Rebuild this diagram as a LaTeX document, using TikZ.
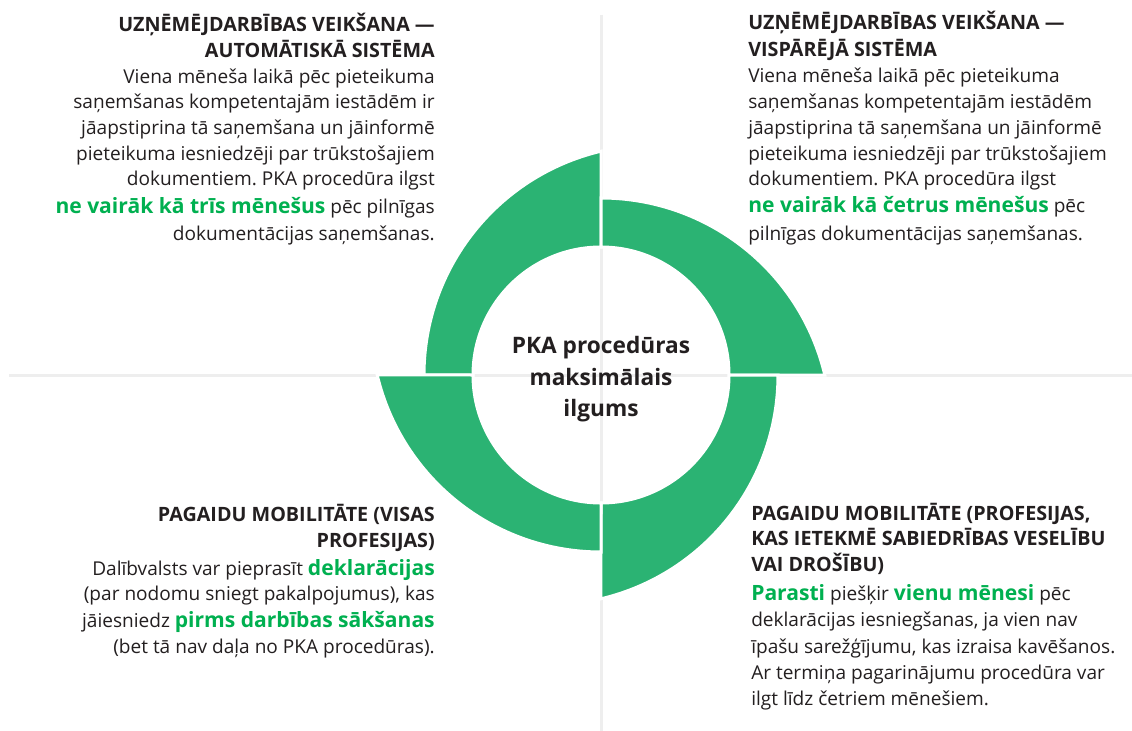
\documentclass[tikz,border=0pt]{standalone}
\usepackage{fontspec}
\setmainfont{Open Sans}
\frenchspacing
\definecolor{wedge}{HTML}{2BB373}
\definecolor{hl}{HTML}{00B050}
\definecolor{ink}{HTML}{231F20}
\definecolor{rulegray}{HTML}{EEEEEE}
\newcommand{\hlt}[1]{\textcolor{hl}{\fontsize{15.8pt}{17pt}\selectfont\bfseries #1}}
\begin{document}
\begin{tikzpicture}[x=0.75pt,y=-0.75pt,
  body/.style={inner sep=0pt, font=\fontsize{14.3pt}{17pt}\selectfont, text=ink},
  ttl/.style={inner sep=0pt, font=\fontsize{14.8pt}{17pt}\selectfont\bfseries, text=ink},
  ctr/.style={inner sep=0pt, font=\fontsize{17pt}{20pt}\selectfont\bfseries, text=ink},
  seg/.style={fill=wedge, draw=white, line width=2.25pt, line join=miter},
  gridline/.style={draw=rulegray, line width=2.25pt}]
\fill[white] (0,0) rectangle (1132,731);
\useasboundingbox (0,0) rectangle (1132,731);
\coordinate (C) at (601,375);
\coordinate (gT) at (601,15);
\coordinate (gB) at (601,731);
\coordinate (gL) at (9,375);
\coordinate (gR) at (1132,375);
\draw[gridline] (gT) -- (gB);
\draw[gridline] (gL) -- (gR);
\foreach \a in {0,-90,-180,-270}{
  \begin{scope}[shift={(C)}, rotate=\a]
    \path[seg] (-128,0) -- (-177,0) arc[start angle=180, end angle=256.69, radius=230]
      -- (0,-128) arc[start angle=270, end angle=180, radius=128] -- cycle;
  \end{scope}
}
% centre
\node[ctr, anchor=base] (c1) at (601,353) {PKA procedūras};
\node[ctr, anchor=base] (c2) at (601,385) {maksimālais};
\node[ctr, anchor=base] (c3) at (601,416.7) {ilgums};
% top left
\node[ttl, anchor=base east] (tl1) at (435,31.7) {UZŅĒMĒJDARBĪBAS VEIKŠANA —};
\node[ttl, anchor=base east] (tl2) at (435,57.3) {AUTOMĀTISKĀ SISTĒMA};
\node[body, anchor=base east] (tl3) at (435,83.3) {Viena mēneša laikā pēc pieteikuma};
\node[body, anchor=base east] (tl4) at (435,109) {saņemšanas kompetentajām iestādēm ir};
\node[body, anchor=base east] (tl5) at (435,135) {jāapstiprina tā saņemšana un jāinformē};
\node[body, anchor=base east] (tl6) at (435,161) {pieteikuma iesniedzēji par trūkstošajiem};
\node[body, anchor=base east] (tl7) at (435,186) {dokumentiem. PKA procedūra ilgst};
\node[body, anchor=base east] (tl8) at (435,214) {\hlt{ne vairāk kā trīs mēnešus} pēc pilnīgas};
\node[body, anchor=base east] (tl9) at (435,240) {dokumentācijas saņemšanas.};
% top right
\node[ttl, anchor=base west] (tr1) at (748,30) {UZŅĒMĒJDARBĪBAS VEIKŠANA —};
\node[ttl, anchor=base west] (tr2) at (748,56.7) {VISPĀRĒJĀ SISTĒMA};
\node[body, anchor=base west] (tr3) at (748,83) {Viena mēneša laikā pēc pieteikuma};
\node[body, anchor=base west] (tr4) at (748,109) {saņemšanas kompetentajām iestādēm};
\node[body, anchor=base west] (tr5) at (748,135) {jāapstiprina tā saņemšana un jāinformē};
\node[body, anchor=base west] (tr6) at (748,161) {pieteikuma iesniedzēji par trūkstošajiem};
\node[body, anchor=base west] (tr7) at (748,186) {dokumentiem. PKA procedūra ilgst};
\node[body, anchor=base west] (tr8) at (748,213) {\hlt{ne vairāk kā četrus mēnešus} pēc};
\node[body, anchor=base west] (tr9) at (748,240) {pilnīgas dokumentācijas saņemšanas.};
% bottom left
\node[ttl, anchor=base east] (bl1) at (435,521.7) {PAGAIDU MOBILITĀTE (VISAS};
\node[ttl, anchor=base east] (bl2) at (435,547.3) {PROFESIJAS)};
\node[body, anchor=base east] (bl3) at (435,575) {Dalībvalsts var pieprasīt \hlt{deklarācijas}};
\node[body, anchor=base east] (bl4) at (435,600) {(par nodomu sniegt pakalpojumus), kas};
\node[body, anchor=base east] (bl5) at (435,627.7) {jāiesniedz \hlt{pirms darbības sākšanas}};
\node[body, anchor=base east] (bl6) at (435,653.3) {(bet tā nav daļa no PKA procedūras).};
% bottom right
\node[ttl, anchor=base west] (br1) at (751,520) {PAGAIDU MOBILITĀTE (PROFESIJAS,};
\node[ttl, anchor=base west] (br2) at (751,545) {KAS IETEKMĒ SABIEDRĪBAS VESELĪBU};
\node[ttl, anchor=base west] (br3) at (751,571.7) {VAI DROŠĪBU)};
\node[body, anchor=base west] (br4) at (751,600) {\hlt{Parasti} piešķir \hlt{vienu mēnesi} pēc};
\node[body, anchor=base west] (br5) at (751,626.7) {deklarācijas iesniegšanas, ja vien nav};
\node[body, anchor=base west] (br6) at (751,653.3) {īpašu sarežģījumu, kas izraisa kavēšanos.};
\node[body, anchor=base west] (br7) at (751,679.3) {Ar termiņa pagarinājumu procedūra var};
\node[body, anchor=base west] (br8) at (751,705) {ilgt līdz četriem mēnešiem.};
\end{tikzpicture}
\end{document}
